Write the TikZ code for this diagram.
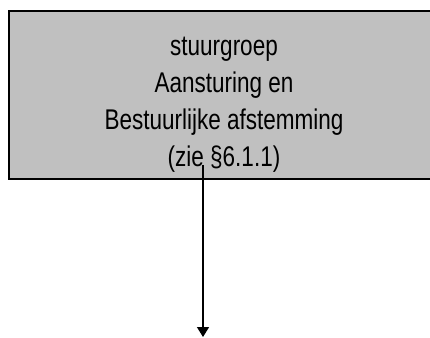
\documentclass[tikz,border=0pt]{standalone}
\usepackage{fontspec}
\setmainfont{Liberation Sans}[FakeStretch=0.79]
\usetikzlibrary{arrows.meta}
\definecolor{boxgray}{HTML}{C0C0C0}
\tikzset{
  mainbox/.style={draw=black, line width=1.6pt, fill=boxgray, minimum width=432pt, minimum height=168pt, inner sep=0pt},
  boxtext/.style={align=center, font=\fontsize{28.5}{37}\selectfont, inner sep=0pt},
  flow/.style={line width=1.4pt, -{Triangle[length=10pt,width=12pt]}}
}
\begin{document}
\begin{tikzpicture}[x=1pt,y=1pt]
\useasboundingbox (0,0) rectangle (430,337);
\clip (0,0) rectangle (430,337);
\fill[white] (0,0) rectangle (430,337);
\node[mainbox] (box) at (225,242) {};
\node[boxtext] (txt) at (224,232) {stuurgroep\\Aansturing en\\Bestuurlijke afstemming\\(zie §6.1.1)};
\coordinate (start) at (203,172);
\coordinate (end) at (203,0);
\draw[flow] (start) -- (end);
\end{tikzpicture}
\end{document}
